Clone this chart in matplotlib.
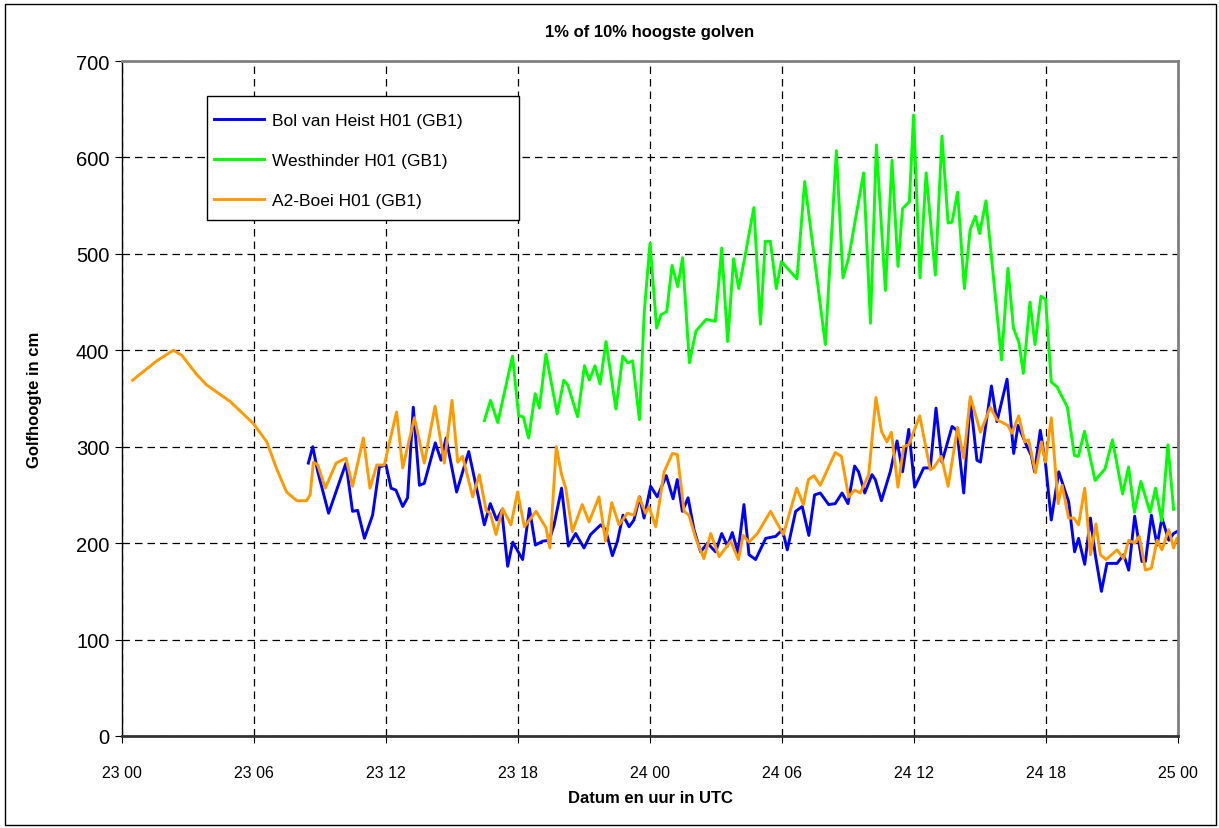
import matplotlib
matplotlib.use('Agg')
import matplotlib.pyplot as plt
from matplotlib.patches import Rectangle

plt.rcParams['font.family'] = ['Liberation Sans', 'DejaVu Sans']

# hours after 23 00 UTC, wave height in cm
bol_t = [8.47, 8.67, 8.9, 9.39, 10.18, 10.48, 10.71, 11.02, 11.39, 11.7, 12.0, 12.23, 12.45, 12.76,
         12.98, 13.24, 13.52, 13.74, 14.24, 14.5, 14.73, 15.21, 15.76, 16.47, 16.74, 17.03, 17.26,
         17.53, 17.76, 18.21, 18.52, 18.79, 19.12, 19.42, 19.64, 19.98, 20.29, 20.62, 21.0, 21.3,
         21.76, 21.98, 22.29, 22.52, 22.77, 23.05, 23.27, 23.53, 23.73, 24.03, 24.33, 24.74, 25.05,
         25.24, 25.47, 25.73, 26.0, 26.3, 26.61, 26.98, 27.26, 27.52, 27.74, 28.0, 28.27, 28.5,
         28.8, 29.26, 29.71, 30.02, 30.24, 30.62, 30.92, 31.22, 31.48, 31.74, 32.12, 32.42, 32.73,
         33.0, 33.3, 33.48, 33.76, 34.09, 34.24, 34.52, 34.92, 35.23, 35.48, 35.76, 36.03, 36.44,
         36.74, 37.0, 37.27, 37.73, 37.95, 38.26, 38.56, 38.86, 39.02, 39.52, 39.77, 40.23, 40.53,
         40.73, 41.14, 41.33, 41.48, 41.74, 41.97, 42.24, 42.58, 42.88, 43.03, 43.3, 43.48, 43.76,
         44.02, 44.24, 44.52, 44.77, 45.23, 45.53, 45.76, 46.03, 46.36, 46.52, 46.79, 47.05, 47.27,
         47.58, 47.8, 47.95]
bol_v = [283, 300, 274, 231, 283, 233, 234, 205, 229, 279, 281, 257, 255, 238,
         247, 341, 260, 262, 304, 286, 309, 253, 295, 219, 241, 224, 234,
         176, 201, 183, 236, 198, 202, 203, 219, 257, 197, 210, 195, 209,
         219, 214, 187, 202, 229, 217, 224, 248, 226, 259, 248, 270, 246,
         266, 233, 247, 214, 191, 200, 191, 210, 197, 211, 190, 240, 188,
         183, 205, 207, 214, 193, 233, 238, 208, 250, 252, 240, 241, 252,
         241, 280, 274, 252, 271, 266, 244, 274, 306, 274, 318, 258, 278,
         278, 340, 284, 321, 317, 252, 348, 286, 284, 363, 326, 370, 293,
         322, 300, 291, 274, 317, 284, 224, 274, 253, 243, 191, 205, 178,
         226, 188, 150, 179, 179, 188, 172, 228, 181, 181, 229, 198, 226,
         203, 210, 212]

west_t = [16.47, 16.75, 17.08, 17.75, 18.03, 18.24, 18.48, 18.78, 18.97, 19.27, 19.78, 20.08, 20.26,
          20.71, 21.02, 21.24, 21.5, 21.73, 22.0, 22.45, 22.76, 22.98, 23.21, 23.52, 23.74, 24.0,
          24.3, 24.5, 24.76, 25.0, 25.26, 25.48, 25.79, 26.09, 26.55, 26.97, 27.26, 27.53, 27.8,
          28.03, 28.29, 28.72, 29.02, 29.24, 29.47, 29.74, 29.97, 30.68, 31.03, 31.97, 32.47, 32.77,
          33.03, 33.71, 34.02, 34.29, 34.7, 35.0, 35.27, 35.48, 35.79, 35.98, 36.27, 36.55, 36.97,
          37.27, 37.55, 37.73, 37.98, 38.29, 38.55, 38.79, 38.98, 39.27, 39.98, 40.27, 40.52, 40.77,
          40.97, 41.27, 41.5, 41.77, 41.98, 42.24, 42.5, 42.97, 43.29, 43.47, 43.75, 44.23, 44.68,
          45.02, 45.48, 45.75, 46.02, 46.31, 46.73, 46.98, 47.26, 47.54, 47.8]
west_v = [327, 348, 325, 394, 332, 331, 309, 355, 340, 396, 334, 369, 364,
          331, 384, 369, 384, 365, 409, 339, 394, 387, 389, 328, 440, 511,
          423, 437, 440, 488, 466, 496, 387, 420, 432, 430, 506, 409, 495,
          464, 494, 548, 427, 513, 513, 464, 492, 474, 575, 406, 607, 475,
          496, 584, 428, 613, 462, 597, 487, 547, 554, 644, 475, 584, 478,
          622, 532, 533, 564, 464, 525, 539, 521, 555, 390, 485, 423, 408,
          376, 450, 406, 456, 453, 367, 362, 341, 291, 290, 316, 265, 277,
          307, 251, 279, 232, 264, 232, 257, 223, 302, 235]

a2_t = [0.48, 1.58, 2.33, 2.71, 3.39, 3.85, 4.91, 5.97, 6.58, 7.03, 7.48, 7.94, 8.39, 8.55, 8.7,
        8.9, 9.24, 9.73, 10.18, 10.48, 10.97, 11.27, 11.58, 11.92, 12.48, 12.76, 13.29, 13.74,
        14.23, 14.65, 15.0, 15.26, 15.48, 15.94, 16.24, 16.55, 16.74, 17.0, 17.3, 17.68, 17.98,
        18.29, 18.82, 19.27, 19.45, 19.74, 19.98, 20.17, 20.47, 20.92, 21.23, 21.68, 21.98, 22.26,
        22.59, 22.97, 23.27, 23.5, 23.8, 23.95, 24.26, 24.64, 25.02, 25.24, 25.55, 25.77, 26.08,
        26.45, 26.76, 27.14, 27.67, 28.02, 28.23, 28.5, 28.88, 29.48, 30.06, 30.67, 30.97, 31.2,
        31.45, 31.74, 32.42, 32.7, 33.03, 33.3, 33.56, 33.94, 34.27, 34.52, 34.77, 34.97, 35.27,
        35.53, 35.76, 36.26, 36.74, 36.89, 37.24, 37.55, 37.98, 38.26, 38.56, 39.02, 39.47, 39.77,
        40.27, 40.45, 40.76, 41.03, 41.21, 41.52, 41.79, 41.97, 42.24, 42.55, 42.73, 43.03, 43.26,
        43.48, 43.76, 44.02, 44.27, 44.47, 44.73, 45.23, 45.53, 45.76, 46.03, 46.24, 46.52, 46.79,
        47.05, 47.27, 47.58, 47.8, 47.95]
a2_v = [369, 389, 400, 395, 375, 364, 347, 324, 305, 277, 253, 244, 244, 250, 284,
        281, 257, 283, 288, 259, 309, 257, 281, 281, 336, 278, 330, 283,
        342, 283, 348, 284, 290, 248, 271, 234, 231, 209, 236, 219, 253,
        217, 233, 216, 195, 300, 271, 257, 212, 240, 222, 248, 202, 242,
        219, 231, 229, 248, 231, 238, 217, 274, 293, 292, 233, 229, 205,
        184, 210, 186, 202, 183, 208, 201, 210, 233, 209, 257, 240, 266,
        270, 260, 294, 290, 248, 255, 252, 271, 351, 316, 305, 315, 258,
        300, 302, 332, 276, 278, 290, 259, 320, 288, 352, 315, 341, 328,
        322, 314, 332, 305, 307, 273, 305, 284, 330, 241, 260, 226, 226,
        219, 257, 188, 220, 188, 183, 193, 184, 203, 200, 207, 172, 174,
        203, 193, 214, 195, 205]

tick_hours = [0, 6, 12, 18, 24, 30, 36, 42, 48]
tick_labels = ['23 00', '23 06', '23 12', '23 18', '24 00', '24 06', '24 12', '24 18', '25 00']
names = ['Bol van Heist H01 (GB1)', 'Westhinder H01 (GB1)', 'A2-Boei H01 (GB1)']

W, H = 1219, 829
fig = plt.figure(figsize=(W / 100, H / 100), dpi=100)
ax = fig.add_axes([122 / W, 1 - 737 / H, (1178 - 122) / W, (737 - 62) / H])

lw = 2.1
l1, = ax.plot(bol_t, bol_v, color='#0000ff', lw=lw, solid_joinstyle='round', zorder=2)
l2, = ax.plot(west_t, west_v, color='#00ff00', lw=lw, solid_joinstyle='round', zorder=2)
l3, = ax.plot(a2_t, a2_v, color='#ff9900', lw=lw, solid_joinstyle='round', zorder=2.1)

ax.set_xlim(0, 48)
ax.set_ylim(0, 700)
ax.set_xticks(tick_hours)
ax.set_xticklabels(tick_labels, fontsize=11.5)
ax.set_yticks(range(0, 701, 100))
ax.tick_params(axis='y', labelsize=14.5, length=5, direction='out', pad=4)
ax.tick_params(axis='x', length=5, direction='out', pad=16)

ax.set_axisbelow(True)
ax.grid(True, color='black', linestyle=(0, (6, 4)), linewidth=0.9)

for s in ['top', 'right']:
    ax.spines[s].set_color('#808080')
    ax.spines[s].set_linewidth(2)
ax.spines['left'].set_color('black')
ax.spines['left'].set_linewidth(1)
ax.spines['bottom'].set_color('#333333')
ax.spines['bottom'].set_linewidth(2)

fig.text(650 / W, 1 - 33 / H, '1% of 10% hoogste golven', ha='center', va='center',
         fontsize=12, fontweight='bold')
fig.text(650 / W, 1 - 799 / H, 'Datum en uur in UTC', ha='center', va='center',
         fontsize=12, fontweight='bold')
fig.text(35 / W, 1 - 400 / H, 'Golfhoogte in cm', ha='center', va='center',
         fontsize=12, fontweight='bold', rotation=90)

# legend box
box = Rectangle((207 / W, 1 - 221 / H), (519 - 207) / W, (221 - 97) / H,
                transform=fig.transFigure, facecolor='white', edgecolor='black',
                linewidth=1, zorder=3)
ax.add_artist(box)
leg = ax.legend([l1, l2, l3], names, loc='upper left',
                bbox_to_anchor=(207 / W, 1 - 107 / H), bbox_transform=fig.transFigure,
                frameon=False, fontsize=12.5, handlelength=2.9, handletextpad=0.45,
                labelspacing=1.42, borderpad=0.4, borderaxespad=0)
leg.set_zorder(5)

# chart area frame
fig.patches.append(Rectangle((5 / W, 1 - 826 / H), (1216 - 5) / W, (826 - 5) / H,
                             transform=fig.transFigure, fill=False, edgecolor='black',
                             linewidth=1))

fig.savefig('out.png', dpi=100)
